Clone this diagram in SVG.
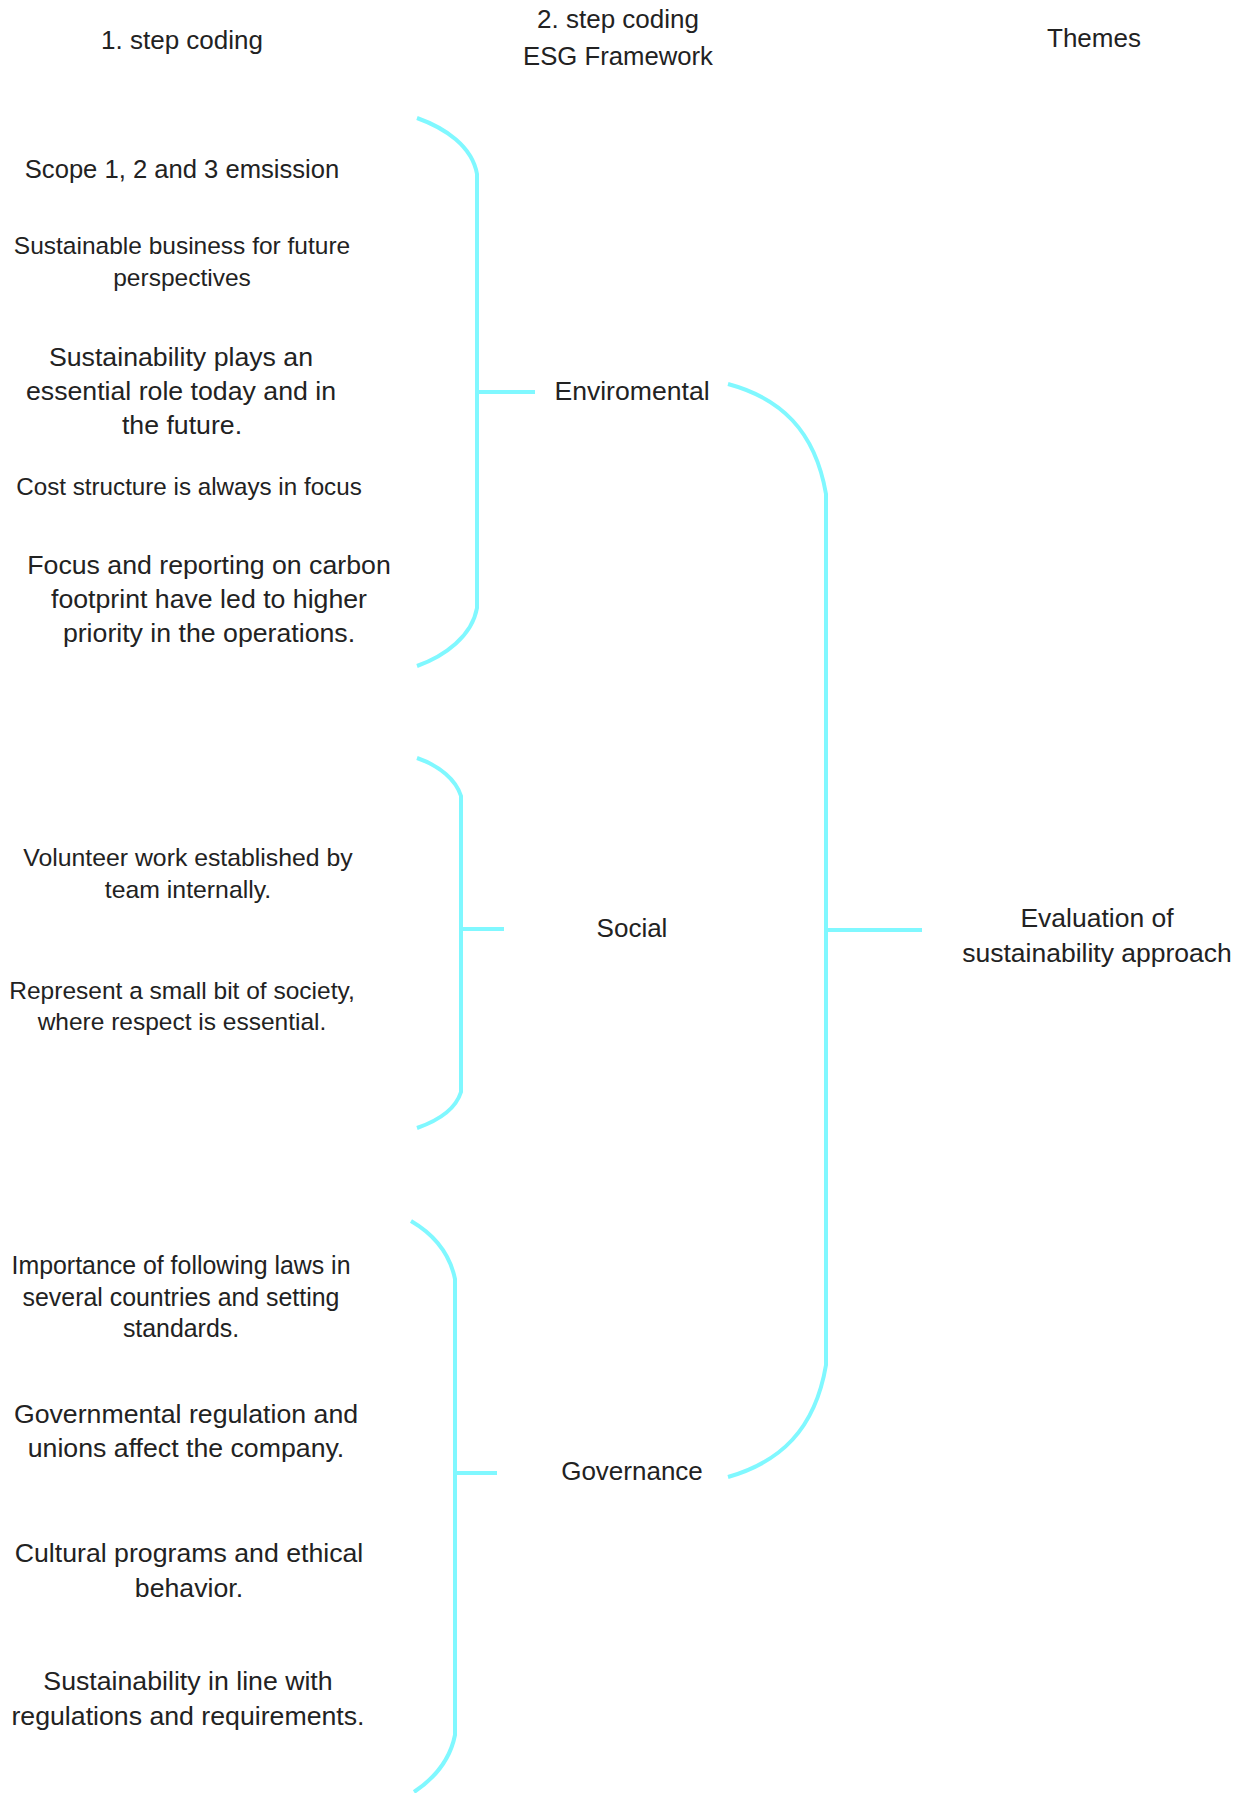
<svg xmlns="http://www.w3.org/2000/svg" width="1247" height="1793" viewBox="0 0 1247 1793">
<style>
text{font-family:"Liberation Sans",Arial,sans-serif;fill:#222;text-anchor:middle}
.h{font-size:26px}
.l{font-size:26.7px}
.m{font-size:25.6px}
.s{font-size:24.5px}
.c{fill:none;stroke:#80F8FF;stroke-width:4;stroke-linecap:butt}
</style>
<rect width="1247" height="1793" fill="#fff"/>
<g id="headers">
<text class="h" x="182" y="49">1. step coding</text>
<text class="h" x="618" y="28">2. step coding</text>
<text class="h" x="618" y="65" style="font-size:25.7px">ESG Framework</text>
<text class="h" x="1094" y="47">Themes</text>
</g>
<g id="connectors">
<path class="c" d="M417,118 C445,128 472,146 477,174 L477,608 C472,636 445,656 417,666"/>
<path class="c" d="M477,392 L535,392"/>
<path class="c" d="M417,758 C440,766 456,780 461,796 L461,1092 C456,1108 440,1120 417,1128"/>
<path class="c" d="M461,929 L504,929"/>
<path class="c" d="M411,1221 C435,1235 450,1255 455,1279 L455,1735 C450,1760 435,1778 414,1792"/>
<path class="c" d="M455,1473 L497,1473"/>
<path class="c" d="M728,384 C780,398 815,430 826,494 L826,1365 C815,1430 780,1462 728,1477"/>
<path class="c" d="M826,930 L922,930"/>
</g>
<g id="n-scope"><text class="m" x="182" y="178">Scope 1, 2 and 3 emsission</text></g>
<g id="n-sustainable-business"><text class="s" x="182" y="254">Sustainable business for future</text><text class="s" x="182" y="286">perspectives</text></g>
<g id="n-sustainability-plays"><text class="l" x="181" y="366">Sustainability plays an</text><text class="l" x="181" y="400">essential role today and in</text><text class="l" x="182" y="434">the future.</text></g>
<g id="n-cost"><text class="s" x="189" y="495" style="font-size:24.2px">Cost structure is always in focus</text></g>
<g id="n-focus"><text class="l" x="209" y="574">Focus and reporting on carbon</text><text class="l" x="209" y="608">footprint have led to higher</text><text class="l" x="209" y="642">priority in the operations.</text></g>
<g id="n-volunteer"><text class="s" x="188" y="866" style="font-size:24.8px">Volunteer work established by</text><text class="s" x="188" y="898" style="font-size:24.8px">team internally.</text></g>
<g id="n-represent"><text class="s" x="182" y="999">Represent a small bit of society,</text><text class="s" x="182" y="1030">where respect is essential.</text></g>
<g id="n-importance"><text class="s" x="181" y="1274" style="font-size:24.9px">Importance of following laws in</text><text class="s" x="181" y="1306" style="font-size:24.9px">several countries and setting</text><text class="s" x="181" y="1337" style="font-size:24.9px">standards.</text></g>
<g id="n-governmental"><text class="l" x="186" y="1423">Governmental regulation and</text><text class="l" x="186" y="1457">unions affect the company.</text></g>
<g id="n-cultural"><text class="l" x="189" y="1562">Cultural programs and ethical</text><text class="l" x="189" y="1597">behavior.</text></g>
<g id="n-sust-line"><text class="l" x="188" y="1690">Sustainability in line with</text><text class="l" x="188" y="1725">regulations and requirements.</text></g>
<g id="n-environmental"><text class="h" x="632" y="400" style="font-size:26.6px">Enviromental</text></g>
<g id="n-social"><text class="h" x="632" y="937">Social</text></g>
<g id="n-governance"><text class="h" x="632" y="1480">Governance</text></g>
<g id="n-evaluation"><text class="h" x="1097" y="927" style="font-size:26.5px">Evaluation of</text><text class="h" x="1097" y="962" style="font-size:26.5px">sustainability approach</text></g>
</svg>
